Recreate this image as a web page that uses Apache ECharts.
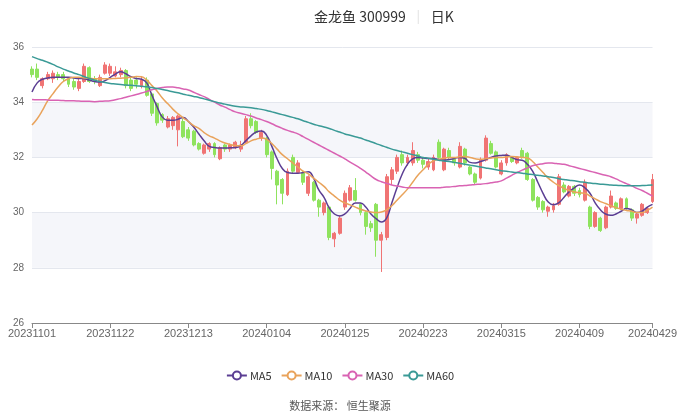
<!DOCTYPE html>
<html><head><meta charset="utf-8">
<script src="https://cdn.jsdelivr.net/npm/echarts/dist/echarts.min.js"></script>
<style>html,body{margin:0;padding:0;background:#fff}#c{width:680px;height:413px}</style>
</head><body><div id="c"></div>
<script>
const dates = ['20231101','20231102','20231103','20231106','20231107','20231108','20231109','20231110','20231113','20231114','20231115','20231116','20231117','20231120','20231121','20231122','20231123','20231124','20231127','20231128','20231129','20231130',
'20231201','20231204','20231205','20231206','20231207','20231208','20231211','20231212','20231213','20231214','20231215','20231218','20231219','20231220','20231221','20231222','20231225','20231226','20231227','20231228','20231229',
'20240102','20240103','20240104','20240105','20240108','20240109','20240110','20240111','20240112','20240115','20240116','20240117','20240118','20240119','20240122','20240123','20240124','20240125','20240126','20240129','20240130','20240131',
'20240201','20240202','20240205','20240206','20240207','20240208','20240219','20240220','20240221','20240222','20240223','20240226','20240227','20240228','20240229',
'20240301','20240304','20240305','20240306','20240307','20240308','20240311','20240312','20240313','20240314','20240315','20240318','20240319','20240320','20240321','20240322','20240325','20240326','20240327','20240328','20240329',
'20240401','20240402','20240403','20240408','20240409','20240410','20240411','20240412','20240415','20240416','20240417','20240418','20240419','20240422','20240423','20240424','20240425','20240426','20240429'];

const opens = [35.2,35.2,34.6,34.85,34.85,35.0,35.0,34.85,34.75,34.5,34.75,35.25,34.85,34.6,35.05,35.05,34.95,35.0,35.15,34.8,34.8,34.6,
34.8,34.3,33.95,33.55,33.1,33.15,33.0,33.3,33.0,32.95,32.5,32.15,32.3,32.5,31.95,32.45,32.3,32.35,32.3,32.55,33.4,
33.3,32.7,32.7,32.2,31.5,31.2,30.65,32.0,31.45,31.45,30.7,31.1,30.45,30.0,30.2,29.05,29.25,30.2,30.45,30.8,30.3,30.0,
29.6,30.3,29.0,29.1,31.2,31.5,32.1,31.8,31.8,32.1,31.9,31.65,31.55,32.55,31.55,
32.25,31.95,31.65,32.3,31.65,31.4,31.25,31.9,32.5,32.2,31.4,31.8,32.0,31.8,32.25,32.15,31.2,30.55,30.4,30.05,30.1,
30.3,31.0,30.6,30.95,30.8,30.45,30.2,29.5,29.8,29.45,30.2,30.35,30.15,30.5,30.1,29.8,29.9,30.0,30.4];
const closes = [35.0,34.9,34.85,35.0,35.05,34.9,34.85,34.65,34.55,34.75,35.3,34.75,34.75,34.9,35.35,35.3,35.1,35.15,34.6,34.5,34.65,34.8,
34.25,33.6,33.25,33.35,33.4,33.45,33.5,32.75,32.7,32.45,32.3,32.45,32.5,32.1,32.35,32.3,32.45,32.55,32.45,33.4,33.15,
32.9,32.9,32.1,31.6,31.0,30.7,31.5,31.5,31.8,31.1,31.3,30.45,30.2,30.35,29.1,29.25,29.8,30.7,30.9,30.45,30.0,29.5,
29.45,29.0,29.2,31.3,31.55,32.0,31.8,32.0,32.25,31.9,31.75,31.85,32.0,32.0,32.3,
32.0,31.8,32.4,31.8,31.4,31.1,31.9,32.7,32.15,31.65,31.8,32.1,31.85,32.0,32.0,31.2,30.45,30.2,30.1,30.2,30.25,
31.3,30.75,30.95,30.7,30.65,31.1,29.5,30.0,29.35,30.2,30.6,30.15,30.5,30.15,29.8,29.95,30.3,30.15,31.2];
const lows = [34.9,34.8,34.5,34.8,34.7,34.8,34.75,34.55,34.45,34.4,34.7,34.7,34.65,34.55,35.0,34.95,34.9,34.9,34.5,34.4,34.5,34.5,
34.2,33.5,33.15,33.25,33.05,33.0,32.4,32.7,32.6,32.4,32.25,32.1,32.2,32.0,31.9,32.2,32.2,32.3,32.2,32.5,33.05,
32.85,32.6,32.0,31.2,30.3,30.3,30.6,31.4,31.4,31.0,30.6,30.4,29.85,29.9,29.0,28.75,29.2,30.1,30.4,30.4,29.9,29.2,
29.3,28.4,27.85,29.0,31.0,31.4,31.7,31.7,31.7,31.8,31.6,31.55,31.5,31.95,31.5,
31.9,31.7,31.6,31.7,31.35,31.0,31.2,31.85,32.1,31.6,31.35,31.7,31.8,31.75,31.95,31.15,30.4,30.1,30.0,29.85,30.0,
30.25,30.7,30.55,30.6,30.55,30.4,29.4,29.45,29.3,29.4,30.15,30.1,30.1,30.1,29.7,29.6,29.85,29.95,30.35];
const highs = [35.3,35.4,34.9,35.1,35.15,35.1,35.1,34.9,34.85,34.85,35.4,35.3,34.95,35.0,35.45,35.4,35.3,35.25,35.2,34.9,34.9,34.95,
34.9,34.35,34.0,33.6,33.5,33.5,33.55,33.4,33.1,33.0,32.55,32.5,32.55,32.55,32.4,32.5,32.5,32.6,32.6,33.5,33.6,
33.35,33.0,32.75,32.25,31.55,31.25,31.6,32.1,31.9,31.5,31.35,31.15,30.5,30.4,30.25,29.3,29.9,30.8,31.0,31.25,30.35,30.05,
29.7,30.35,29.3,31.4,31.65,32.1,32.25,32.1,32.55,32.2,32.0,31.95,32.1,32.65,32.35,
32.35,32.0,32.55,32.35,31.7,31.45,32.0,32.8,32.6,32.25,31.9,32.15,32.05,32.05,32.35,32.2,31.25,30.6,30.45,30.25,30.35,
31.4,31.1,31.0,31.0,30.9,31.2,30.25,30.05,29.85,30.25,30.8,30.4,30.55,30.55,30.15,30.0,30.35,30.2,31.4];

const ma5 = [34.37,34.7,34.83,34.88,34.9,34.9,34.9,34.9,34.88,34.86,34.85,34.8,34.75,34.73,34.78,34.9,35.02,35.1,35.03,34.92,34.86,34.83,
34.7,34.25,33.83,33.46,33.35,33.35,33.38,33.45,33.3,33.1,32.85,32.6,32.4,32.36,32.34,32.34,32.35,32.36,32.42,32.6,32.78,
32.92,32.96,32.8,32.4,31.95,31.6,31.45,31.43,31.43,31.45,31.48,31.25,30.82,30.55,30.17,29.95,29.88,29.95,30.15,30.35,30.35,30.2,
29.95,29.78,29.66,29.8,30.35,30.9,31.4,31.75,31.95,32.0,31.98,31.96,31.96,31.92,31.9,
31.92,31.96,32.0,31.97,31.82,31.8,31.85,31.92,32.0,32.05,32.07,32.08,32.0,31.92,31.9,31.75,31.5,31.1,30.7,30.38,30.28,
30.35,30.55,30.75,30.9,31.0,30.9,30.7,30.35,30.1,29.95,29.9,29.95,30.05,30.15,30.1,30.0,30.05,30.2,30.3];
const ma10 = [33.17,33.4,33.7,34.05,34.3,34.55,34.75,34.85,34.9,34.9,34.88,34.87,34.85,34.85,34.85,34.85,34.86,34.87,34.88,34.9,34.93,34.92,
34.8,34.6,34.4,34.15,33.95,33.75,33.58,33.43,33.3,33.15,33.05,32.9,32.78,32.7,32.6,32.52,32.47,32.43,32.42,32.5,32.6,
32.66,32.7,32.65,32.5,32.3,32.1,31.95,31.8,31.65,31.5,31.4,31.25,31.1,30.95,30.75,30.6,30.45,30.35,30.28,30.2,30.12,30.06,
30.02,30.0,30.02,30.1,30.25,30.45,30.65,30.85,31.1,31.35,31.55,31.75,31.88,31.93,31.97,
32.0,32.0,32.02,32.03,32.0,31.95,31.93,31.95,31.98,32.0,32.0,32.02,32.03,32.02,32.0,31.98,31.85,31.65,31.45,31.25,31.1,
30.98,30.88,30.8,30.75,30.72,30.7,30.6,30.5,30.4,30.33,30.25,30.18,30.12,30.08,30.05,30.0,30.0,30.08,30.2];
const ma30 = [34.1,34.09,34.09,34.08,34.07,34.07,34.06,34.05,34.05,34.04,34.03,34.03,34.02,34.03,34.04,34.05,34.09,34.13,34.18,34.23,34.28,34.33,
34.39,34.45,34.5,34.53,34.55,34.55,34.52,34.48,34.44,34.36,34.28,34.2,34.1,34.0,33.9,33.82,33.73,33.65,33.6,33.55,33.5,
33.43,33.37,33.3,33.22,33.13,33.05,32.98,32.92,32.85,32.75,32.65,32.55,32.45,32.35,32.25,32.15,32.05,31.95,31.83,31.72,31.6,31.47,
31.33,31.2,31.12,31.06,31.0,30.96,30.93,30.9,30.9,30.9,30.9,30.9,30.9,30.9,30.92,
30.93,30.95,30.97,30.98,31.0,31.02,31.03,31.05,31.08,31.11,31.15,31.25,31.35,31.45,31.54,31.62,31.7,31.74,31.77,31.8,31.79,
31.77,31.75,31.7,31.65,31.6,31.55,31.5,31.45,31.4,31.35,31.3,31.22,31.13,31.05,30.97,30.88,30.8,30.7,30.6];
const ma60 = [35.65,35.58,35.52,35.45,35.37,35.28,35.2,35.13,35.06,35.0,34.93,34.86,34.8,34.75,34.71,34.68,34.66,34.64,34.62,34.61,34.6,34.58,
34.56,34.53,34.5,34.46,34.42,34.38,34.34,34.29,34.25,34.21,34.17,34.12,34.07,34.02,33.97,33.93,33.89,33.85,33.83,33.82,33.8,
33.77,33.74,33.7,33.65,33.6,33.55,33.5,33.45,33.4,33.33,33.27,33.2,33.15,33.1,33.05,32.98,32.92,32.85,32.8,32.75,32.7,32.63,
32.57,32.5,32.43,32.37,32.3,32.25,32.2,32.15,32.1,32.05,32.0,31.97,31.93,31.9,31.87,
31.85,31.82,31.79,31.75,31.72,31.69,31.65,31.62,31.59,31.55,31.52,31.5,31.47,31.45,31.43,31.4,31.38,31.35,31.33,31.3,31.27,
31.23,31.2,31.17,31.15,31.12,31.1,31.07,31.05,31.03,31.02,31.0,30.99,30.98,30.97,30.97,30.97,30.98,30.99,31.0];

const yTicks = [26, 28, 30, 32, 34, 36];
const maNames = ['MA5', 'MA10', 'MA30', 'MA60'];

const candle = dates.map((d, i) => [opens[i], closes[i], lows[i], highs[i]]);
const lastIdx = dates.length - 1;
const showIdx = (i) => i % 15 === 0 || i === lastIdx;
const maData = [ma5, ma10, ma30, ma60];
const maColors = ['#5b3e93', '#e9a35b', '#d963b3', '#3a9a96'];

const chart = echarts.init(document.getElementById('c'), null, {renderer: 'canvas'});
chart.setOption({
  animation: false,
  backgroundColor: '#fff',
  title: [
    {text: '金龙鱼 300999{g|}{s|}{g|}日K', left: 309, top: 5,
     textStyle: {fontSize: 14, color: '#333', fontWeight: 'normal', fontFamily: 'Noto Sans CJK SC',
       rich: {g: {width: 12}, s: {width: 1, height: 14, backgroundColor: '#e2e2e2'}}}},
    {text: '数据来源： 恒生聚源', left: 'center', top: 395,
     textStyle: {fontSize: 11, color: '#555', fontWeight: 'normal', fontFamily: 'Noto Sans CJK SC'}}
  ],
  legend: {
    data: maNames, left: 'center', top: 365, itemWidth: 20, itemHeight: 10, itemGap: 9,
    textStyle: {fontSize: 11, color: '#333', fontFamily: 'Noto Sans CJK SC', padding: [0, 0, 0, -2]}
  },
  grid: {left: 32, right: 26, top: 47, bottom: 90},
  xAxis: {
    type: 'category', data: dates, boundaryGap: false,
    axisLine: {lineStyle: {color: '#888'}},
    axisTick: {show: true, interval: showIdx, length: 5, lineStyle: {color: '#888'}},
    axisLabel: {interval: showIdx, fontSize: 11, color: '#666', margin: 5},
    splitLine: {show: false}
  },
  yAxis: {
    type: 'value', min: yTicks[0], max: yTicks[yTicks.length - 1], interval: 2, scale: true,
    axisLine: {show: false}, axisTick: {show: false},
    axisLabel: {fontSize: 10, color: '#666', margin: 8},
    splitLine: {lineStyle: {color: '#e4e7ee'}},
    splitArea: {show: true, areaStyle: {color: ['rgba(255,255,255,0)', '#f5f6fa']}}
  },
  series: [
    {type: 'candlestick', name: '日K', data: candle, barWidth: '65%',
     itemStyle: {color: '#f07474', color0: '#8fe35e', borderColor: '#f07474', borderColor0: '#8fe35e', borderWidth: 1}}
  ].concat(maNames.map((n, k) => ({
    type: 'line', name: n, data: maData[k], smooth: true, symbol: 'emptyCircle', symbolSize: 6,
    showSymbol: false, lineStyle: {width: 1.5, color: maColors[k]}, itemStyle: {color: maColors[k]}
  })))
});
</script></body></html>
